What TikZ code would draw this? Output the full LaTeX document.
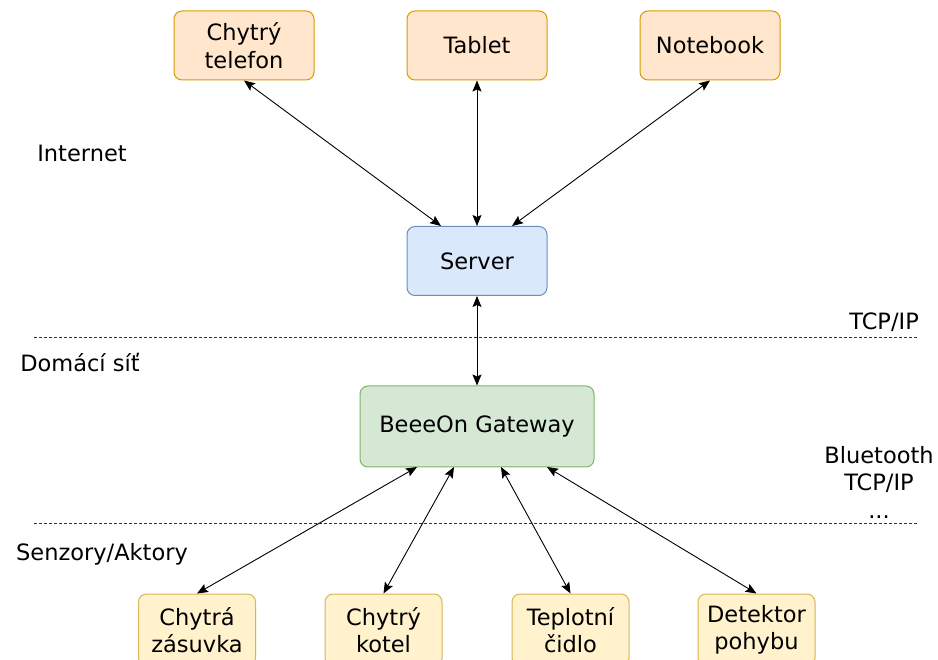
\documentclass[tikz,border=0pt]{standalone}
\usepackage{fontspec}
\setmainfont{DejaVu Sans}
\usetikzlibrary{arrows.meta}
\definecolor{orF}{HTML}{FFE6CC}\definecolor{orD}{HTML}{D79B00}
\definecolor{blF}{HTML}{DAE8FC}\definecolor{blD}{HTML}{6C8EBF}
\definecolor{grF}{HTML}{D5E8D4}\definecolor{grD}{HTML}{82B366}
\definecolor{yeF}{HTML}{FFF2CC}\definecolor{yeD}{HTML}{D6B656}
\begin{document}
\begin{tikzpicture}[x=1pt,y=-1pt,
  every node/.style={font=\fontsize{22.5}{27.5}\selectfont, align=center, inner sep=0pt},
  box/.style={rounded corners=8pt, line width=1pt, minimum width=140pt, minimum height=69pt},
  devbox/.style={box, fill=orF, draw=orD},
  srvbox/.style={box, fill=blF, draw=blD},
  gwbox/.style={box, fill=grF, draw=grD, minimum width=234pt, minimum height=81pt},
  senbox/.style={box, fill=yeF, draw=yeD, minimum width=117pt, minimum height=72pt},
  link/.style={line width=0.9pt, {Stealth[length=11pt,width=9pt,inset=2pt]}-{Stealth[length=11pt,width=9pt,inset=2pt]}},
  sep/.style={dashed, dash pattern=on 3pt off 2pt, line width=0.8pt, draw=black!80},
  lbl/.style={}]
\useasboundingbox (0,0) rectangle (938,660);
\node[devbox] (phone) at (244,45.5) {Chytrý\\telefon};
\node[devbox] (tablet) at (477,45.5) {Tablet};
\node[devbox] (nb) at (710,45.5) {Notebook};
\node[srvbox] (srv) at (477,261) {Server};
\node[gwbox] (gw) at (477,426.5) {BeeeOn Gateway};
\node[senbox] (s1) at (197,630) {Chytrá\\zásuvka};
\node[senbox] (s2) at (383.5,630) {Chytrý\\kotel};
\node[senbox] (s3) at (570.5,630) {Teplotní\\čidlo};
\node[senbox] (s4) at (756.5,630) {Detektor\\pohybu};

\coordinate (srvA) at (441,226);
\coordinate (srvC) at (512,226);
\coordinate (gw1) at (417,467);
\coordinate (gw2) at (454,467);
\coordinate (gw3) at (501,467);
\coordinate (gw4) at (547,467);

\draw[link] (phone.south) -- (srvA);
\draw[link] (tablet.south) -- (srv.north);
\draw[link] (nb.south) -- (srvC);
\draw[link] (srv.south) -- (gw.north);
\draw[link] (gw1) -- (s1.north);
\draw[link] (gw2) -- (s2.north);
\draw[link] (gw3) -- (s3.north);
\draw[link] (gw4) -- (s4.north);

\coordinate (d1a) at (34,337); \coordinate (d1b) at (918,337);
\coordinate (d2a) at (34,523); \coordinate (d2b) at (918,523);
\draw[sep] (d1a) -- (d1b);
\draw[sep] (d2a) -- (d2b);

\node[lbl] (inet) at (82,153) {Internet};
\node[lbl, anchor=east] (tcp1) at (919,322) {TCP/IP};
\node[lbl] (home) at (80,363) {Domácí síť};
\node[lbl] (proto) at (879,482) {Bluetooth\\TCP/IP\\...};
\node[lbl] (sens) at (102,554) {Senzory/Aktory};
\end{tikzpicture}
\end{document}
